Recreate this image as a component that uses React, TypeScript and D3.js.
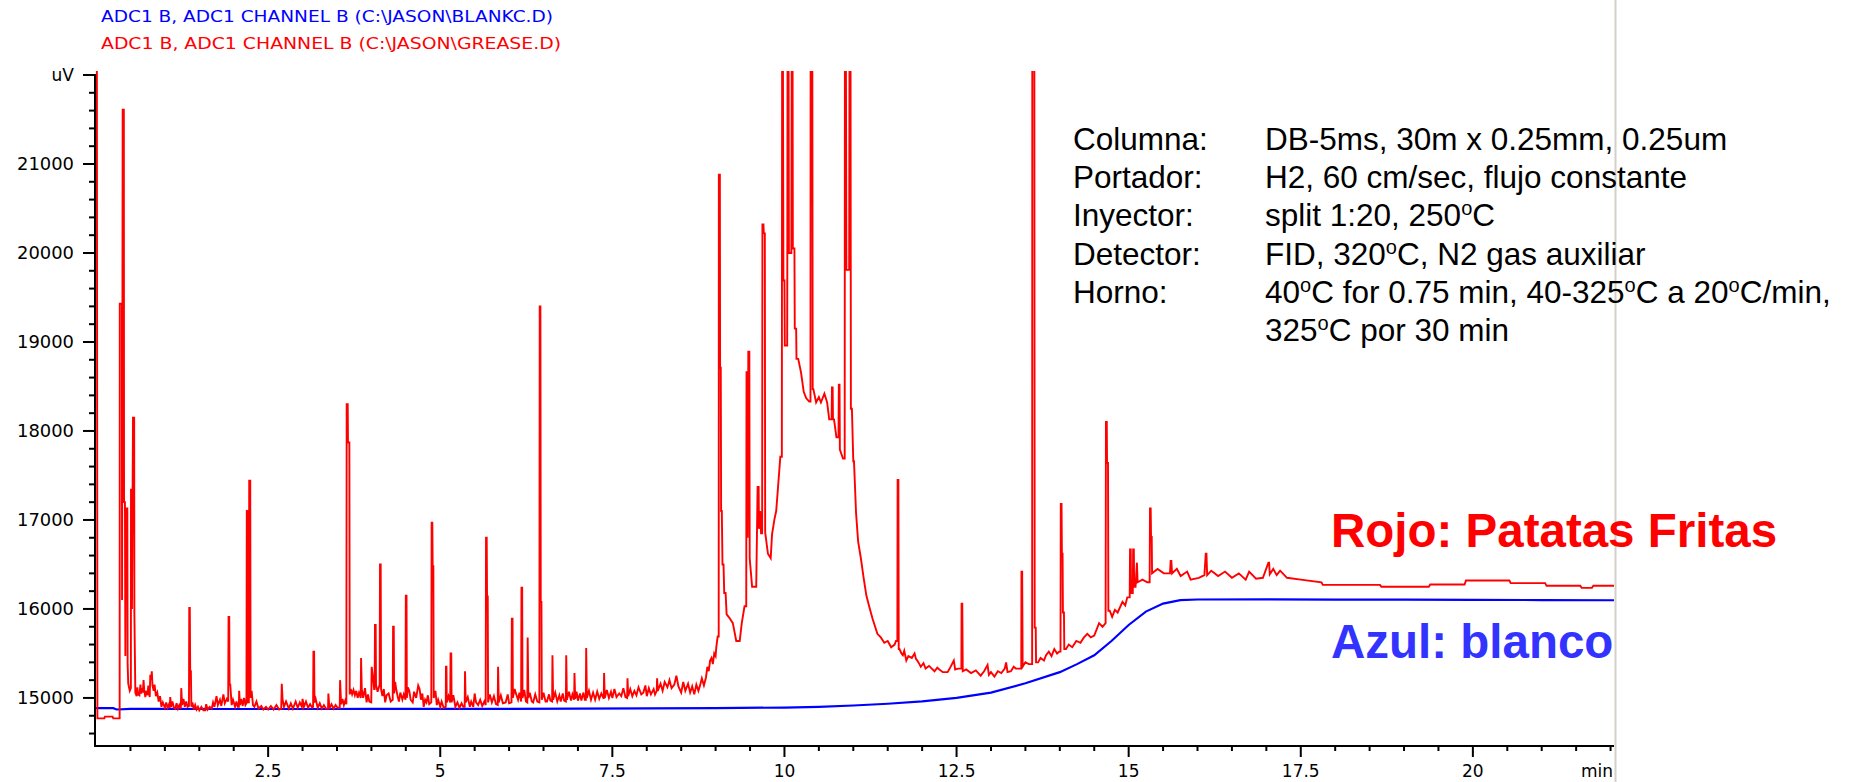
import React from "react";
import * as d3 from "d3";

const W = 1853;
const H = 782;

const legendBlue = "ADC1 B, ADC1 CHANNEL B (C:\\JASON\\BLANKC.D)";
const legendRed = "ADC1 B, ADC1 CHANNEL B (C:\\JASON\\GREASE.D)";

const yTickValues = [15000, 16000, 17000, 18000, 19000, 20000, 21000];
const yTickLabels = ["15000", "16000", "17000", "18000", "19000", "20000", "21000"];
const xTickValues = [2.5, 5, 7.5, 10, 12.5, 15, 17.5, 20];
const xTickLabels = ["2.5", "5", "7.5", "10", "12.5", "15", "17.5", "20"];

const annotationLabels = ["Columna:", "Portador:", "Inyector:", "Detector:", "Horno:", ""];
const annotationValues = [
  "DB-5ms, 30m x 0.25mm, 0.25um",
  "H2, 60 cm/sec, flujo constante",
  "split 1:20, 250^oC",
  "FID, 320^oC, N2 gas auxiliar",
  "40^oC for 0.75 min, 40-325^oC a 20^oC/min,",
  "325^oC por 30 min",
];

// Blank run (blue) : [time (min), signal (uV)]
const blueTrace: [number, number][] = [
  [0, 14885], [0.25, 14885], [0.3, 14870], [0.5, 14878], [1, 14878], [2, 14876], [3, 14876],
  [4, 14877], [5, 14877], [6, 14878], [7, 14880], [8, 14882], [9, 14886], [10, 14892],
  [10.5, 14900], [11, 14915], [11.5, 14935], [12, 14962], [12.5, 15000], [13, 15060],
  [13.5, 15165], [14, 15290], [14.25, 15380], [14.5, 15480], [14.75, 15640], [15, 15820],
  [15.25, 15970], [15.5, 16060], [15.75, 16100], [16, 16106], [17, 16108], [18, 16105],
  [19, 16104], [20, 16103], [21, 16100], [22.05, 16098],
];

// Grease sample (red) : [time (min), signal (uV)]
const redTrace: [number, number][] = [
  [0.012, 22150], [0.02, 14770], [0.12, 14770], [0.13, 14790], [0.24, 14790], [0.25, 14770], [0.343, 14770],
  [0.345, 19430], [0.375, 19430], [0.378, 16100], [0.387, 21610], [0.404, 21610], [0.407, 17200], [0.42, 17200],
  [0.426, 15470], [0.435, 17130], [0.455, 17130], [0.459, 15380], [0.468, 15160], [0.49, 15080], [0.506, 15110],
  [0.508, 17340], [0.52, 17340], [0.522, 16000], [0.537, 18150], [0.554, 18150], [0.557, 15960], [0.571, 15060],
  [0.59, 15020], [0.6, 15120], [0.61, 15040], [0.63, 15030], [0.645, 15150], [0.655, 15050], [0.667, 15110],
  [0.68, 15060], [0.69, 15200], [0.7, 15090], [0.716, 15010], [0.73, 15080], [0.745, 15030], [0.76, 15140],
  [0.77, 15050], [0.78, 15010], [0.788, 15260], [0.8, 15200], [0.81, 15300], [0.82, 15140], [0.837, 15080],
  [0.85, 15150], [0.87, 15020], [0.89, 15060], [0.909, 14960], [0.93, 15020], [0.95, 14900], [0.97, 14950],
  [1.0, 14890], [1.02, 14950], [1.04, 14890], [1.06, 14930], [1.072, 14890], [1.078, 15010], [1.09, 14900],
  [1.11, 14960], [1.13, 14890], [1.15, 14880], [1.17, 14940], [1.19, 14880], [1.21, 14920], [1.232, 14880],
  [1.238, 15110], [1.25, 14920], [1.27, 14990], [1.29, 14900], [1.31, 14960], [1.33, 14900], [1.35, 14910],
  [1.354, 16010], [1.362, 16010], [1.368, 15300], [1.378, 15300], [1.385, 14900], [1.4, 14950], [1.42, 14870],
  [1.44, 14920], [1.46, 14870], [1.48, 14900], [1.5, 14860], [1.53, 14900], [1.56, 14860], [1.586, 14860],
  [1.6, 14930], [1.62, 14870], [1.65, 14900], [1.68, 14880], [1.7, 14950], [1.72, 14900], [1.75, 15020],
  [1.77, 14920], [1.8, 14980], [1.82, 14910], [1.85, 15040], [1.87, 14940], [1.9, 14990], [1.92, 14960],
  [1.925, 15910], [1.935, 15910], [1.94, 15150], [1.95, 15150], [1.97, 14920], [1.99, 14980], [2.02, 14900],
  [2.04, 14960], [2.06, 14900], [2.075, 14900], [2.079, 15080], [2.09, 14920], [2.11, 14990], [2.13, 14910],
  [2.15, 15000], [2.17, 14920], [2.185, 14940], [2.19, 17100], [2.205, 17100], [2.21, 14950], [2.22, 14950],
  [2.225, 17440], [2.24, 17440], [2.245, 15000], [2.26, 15080], [2.28, 14920], [2.3, 14900], [2.33, 14960],
  [2.36, 14880], [2.4, 14910], [2.43, 14870], [2.47, 14900], [2.5, 14870], [2.54, 14910], [2.58, 14870],
  [2.62, 14920], [2.66, 14870], [2.69, 14880], [2.698, 15160], [2.71, 14980], [2.73, 14900], [2.76, 14960],
  [2.8, 14880], [2.83, 14940], [2.86, 14880], [2.9, 14960], [2.93, 14890], [2.96, 14950], [2.99, 14900],
  [3.0, 14990], [3.02, 14900], [3.05, 14960], [3.08, 14890], [3.11, 14930], [3.14, 14890], [3.153, 14900],
  [3.158, 15520], [3.168, 15520], [3.173, 14950], [3.19, 14990], [3.22, 14890], [3.25, 14940], [3.28, 14880],
  [3.31, 14920], [3.34, 14880], [3.37, 14880], [3.375, 15050], [3.39, 14880], [3.42, 14930], [3.45, 14880],
  [3.48, 14920], [3.51, 14890], [3.54, 14890], [3.545, 15200], [3.56, 14930], [3.58, 14990], [3.6, 14920],
  [3.62, 14970], [3.636, 14930], [3.641, 18300], [3.656, 18300], [3.66, 17870], [3.68, 17870], [3.685, 15040],
  [3.7, 15100], [3.72, 15040], [3.74, 15090], [3.76, 15030], [3.78, 15080], [3.8, 15000], [3.82, 15060],
  [3.845, 15000], [3.85, 15450], [3.86, 15100], [3.88, 15000], [3.907, 15110], [3.93, 14950], [3.95, 15040],
  [3.97, 14960], [3.998, 14950], [4.004, 15350], [4.02, 15250], [4.04, 15100], [4.047, 15100], [4.052, 15820],
  [4.062, 15820], [4.067, 15150], [4.09, 15070], [4.12, 15150], [4.125, 16500], [4.135, 16500], [4.14, 15100],
  [4.16, 15020], [4.18, 15100], [4.2, 14950], [4.22, 15030], [4.25, 15050], [4.28, 14960], [4.31, 14980],
  [4.315, 15800], [4.325, 15800], [4.33, 15050], [4.345, 15180], [4.36, 15100], [4.38, 15020], [4.4, 14960],
  [4.42, 15060], [4.45, 14980], [4.47, 15040], [4.495, 14980], [4.5, 16150], [4.51, 16150], [4.515, 15000],
  [4.53, 15120], [4.55, 15080], [4.57, 14980], [4.6, 14950], [4.62, 15070], [4.65, 15000], [4.68, 15140],
  [4.7, 15100], [4.72, 14980], [4.74, 15050], [4.76, 14900], [4.78, 14980], [4.8, 14950], [4.82, 15030],
  [4.84, 14930], [4.87, 14950], [4.875, 16970], [4.885, 16970], [4.89, 16480], [4.9, 16480], [4.905, 15000],
  [4.93, 15080], [4.95, 14920], [4.97, 14980], [5.0, 14900], [5.02, 14960], [5.05, 14890], [5.08, 14900],
  [5.083, 15350], [5.09, 15350], [5.095, 14950], [5.12, 15020], [5.145, 14950], [5.15, 15500], [5.16, 15500],
  [5.165, 14950], [5.19, 15030], [5.22, 14900], [5.25, 14950], [5.28, 14890], [5.31, 14940], [5.335, 14900],
  [5.355, 14900], [5.36, 15300], [5.37, 14950], [5.4, 15010], [5.43, 14900], [5.45, 14960], [5.48, 14900],
  [5.5, 15050], [5.52, 14950], [5.55, 14920], [5.58, 14980], [5.61, 14910], [5.64, 14960], [5.66, 14920],
  [5.665, 16800], [5.675, 16800], [5.68, 16140], [5.69, 16140], [5.695, 14950], [5.72, 15040], [5.75, 14950],
  [5.78, 15020], [5.81, 14930], [5.835, 14920], [5.84, 15350], [5.85, 14950], [5.88, 15030], [5.91, 14940],
  [5.95, 14950], [5.98, 15040], [6.0, 14940], [6.035, 14950], [6.04, 15890], [6.05, 15890], [6.055, 15000],
  [6.08, 15100], [6.1, 15050], [6.13, 14980], [6.15, 15060], [6.175, 14960], [6.18, 16240], [6.19, 16240],
  [6.195, 15000], [6.22, 15090], [6.245, 14960], [6.265, 14950], [6.27, 15680], [6.28, 15000], [6.3, 15060],
  [6.33, 14960], [6.35, 14950], [6.38, 15040], [6.41, 14960], [6.44, 14950], [6.445, 19400], [6.455, 19400],
  [6.46, 16080], [6.47, 16080], [6.475, 14980], [6.5, 15060], [6.53, 14960], [6.55, 14960], [6.58, 15040],
  [6.6, 14970], [6.625, 14960], [6.63, 15480], [6.64, 14980], [6.67, 15060], [6.7, 14960], [6.73, 15030],
  [6.75, 14960], [6.78, 15050], [6.8, 14970], [6.825, 14960], [6.83, 15480], [6.84, 14980], [6.87, 15070],
  [6.9, 14970], [6.92, 15040], [6.945, 14980], [6.95, 15280], [6.96, 14990], [6.98, 15070], [7.0, 14970],
  [7.03, 15050], [7.05, 14970], [7.08, 15060], [7.1, 14980], [7.115, 14980], [7.12, 15560], [7.13, 15000],
  [7.16, 15080], [7.19, 14980], [7.22, 15060], [7.25, 14980], [7.28, 15070], [7.31, 14990], [7.34, 15050],
  [7.375, 14990], [7.38, 15280], [7.39, 15000], [7.42, 15090], [7.45, 15000], [7.48, 15070], [7.5, 15000],
  [7.53, 15100], [7.56, 15010], [7.6, 15050], [7.63, 15020], [7.66, 15110], [7.69, 15010], [7.715, 15000],
  [7.72, 15220], [7.73, 15020], [7.76, 15100], [7.79, 15020], [7.82, 15080], [7.85, 15030], [7.88, 15120],
  [7.92, 15040], [7.95, 15060], [7.98, 15140], [8.0, 15020], [8.03, 15110], [8.06, 15040], [8.1, 15100],
  [8.12, 15040], [8.145, 15080], [8.15, 15220], [8.16, 15080], [8.2, 15160], [8.23, 15080], [8.26, 15180],
  [8.3, 15120], [8.33, 15200], [8.36, 15110], [8.4, 15150], [8.43, 15250], [8.46, 15130], [8.5, 15060],
  [8.53, 15180], [8.56, 15080], [8.6, 15160], [8.63, 15060], [8.66, 15130], [8.69, 15040], [8.72, 15150],
  [8.75, 15080], [8.77, 15130], [8.8, 15220], [8.83, 15140], [8.86, 15230], [8.88, 15350], [8.9, 15300],
  [8.92, 15420], [8.94, 15450], [8.96, 15380], [8.98, 15500], [9.0, 15470], [9.01, 15570], [9.03, 15690],
  [9.045, 15690], [9.047, 20880], [9.062, 20880], [9.065, 18710], [9.075, 18710], [9.08, 17100], [9.09, 17100],
  [9.1, 16500], [9.115, 16500], [9.125, 16180], [9.145, 16180], [9.16, 15940], [9.2, 15900], [9.25, 15840],
  [9.3, 15640], [9.35, 15640], [9.38, 15840], [9.42, 16030], [9.445, 16030], [9.449, 18660], [9.46, 18660],
  [9.465, 16800], [9.475, 18890], [9.49, 18890], [9.495, 16570], [9.53, 16250], [9.59, 16250], [9.61, 17370],
  [9.625, 17370], [9.63, 16900], [9.647, 17100], [9.66, 16850], [9.676, 16850], [9.68, 20320], [9.695, 20320],
  [9.7, 20220], [9.715, 20220], [9.72, 16860], [9.76, 16620], [9.8, 16570], [9.82, 16840], [9.855, 17010],
  [9.88, 17100], [9.9, 17300], [9.94, 17710], [9.962, 17710], [9.966, 22150], [9.978, 22150], [9.985, 19690],
  [10.0, 19690], [10.005, 18960], [10.04, 18960], [10.045, 22150], [10.06, 22150], [10.065, 20000], [10.1, 20000],
  [10.105, 22150], [10.118, 22150], [10.122, 20050], [10.145, 20050], [10.15, 19150], [10.17, 19150],
  [10.175, 18810], [10.2, 18810], [10.24, 18660], [10.28, 18440], [10.315, 18370], [10.36, 18330],
  [10.378, 18330], [10.38, 22150], [10.405, 22150], [10.41, 18470], [10.42, 18470], [10.46, 18320],
  [10.5, 18380], [10.53, 18320], [10.58, 18420], [10.62, 18320], [10.65, 18130], [10.685, 18130], [10.69, 18490],
  [10.7, 18490], [10.705, 18130], [10.72, 18130], [10.755, 17930], [10.785, 17930], [10.79, 18520], [10.8, 18520],
  [10.805, 17790], [10.85, 17690], [10.875, 17690], [10.878, 22150], [10.893, 22150], [10.9, 19810],
  [10.94, 19810], [10.945, 22150], [10.96, 22150], [10.965, 18250], [10.98, 18250], [11.0, 17660], [11.01, 17660],
  [11.04, 17080], [11.07, 16760], [11.11, 16570], [11.15, 16350], [11.19, 16150], [11.23, 16030], [11.28, 15890],
  [11.35, 15720], [11.4, 15680], [11.45, 15620], [11.5, 15640], [11.55, 15570], [11.6, 15600], [11.62, 15640],
  [11.64, 15640], [11.644, 17450], [11.655, 17450], [11.66, 15550], [11.67, 15550], [11.7, 15500], [11.72, 15480],
  [11.74, 15530], [11.77, 15420], [11.8, 15470], [11.85, 15450], [11.89, 15500], [11.91, 15440], [11.93, 15420],
  [11.96, 15380], [11.98, 15350], [12.02, 15390], [12.05, 15330], [12.1, 15360], [12.18, 15300], [12.22, 15340],
  [12.25, 15320], [12.3, 15290], [12.37, 15290], [12.4, 15330], [12.46, 15420], [12.48, 15320], [12.52, 15330],
  [12.57, 15330], [12.573, 16060], [12.583, 16060], [12.59, 15300], [12.64, 15320], [12.71, 15280], [12.78, 15310],
  [12.85, 15250], [12.9, 15300], [12.95, 15370], [12.97, 15260], [13.0, 15290], [13.05, 15240], [13.1, 15300],
  [13.15, 15280], [13.2, 15330], [13.22, 15400], [13.24, 15290], [13.29, 15300], [13.33, 15350], [13.36, 15330],
  [13.44, 15330], [13.443, 16420], [13.453, 16420], [13.46, 15350], [13.5, 15400], [13.55, 15380], [13.598, 15380],
  [13.6, 22150], [13.63, 22150], [13.635, 15790], [13.65, 15790], [13.655, 15400], [13.685, 15400], [13.72, 15450],
  [13.77, 15420], [13.8, 15480], [13.84, 15520], [13.88, 15470], [13.92, 15550], [13.96, 15500], [13.99, 15520],
  [14.01, 15520], [14.014, 17180], [14.025, 17180], [14.03, 16620], [14.04, 16620], [14.045, 15960], [14.06, 15960],
  [14.065, 15550], [14.09, 15550], [14.13, 15600], [14.18, 15570], [14.24, 15640], [14.3, 15620], [14.35, 15680],
  [14.4, 15720], [14.45, 15680], [14.5, 15700], [14.57, 15840], [14.62, 15800], [14.665, 15840], [14.67, 18100],
  [14.682, 18100], [14.686, 17640], [14.7, 17640], [14.705, 15980], [14.725, 15980], [14.76, 15910], [14.8, 15990],
  [14.84, 15960], [14.91, 16080], [14.95, 16040], [14.98, 16130], [15.015, 16130], [15.02, 16670], [15.03, 16670],
  [15.035, 16180], [15.06, 16180], [15.065, 16670], [15.075, 16670], [15.08, 16250], [15.1, 16250], [15.12, 16520],
  [15.13, 16300], [15.2, 16330], [15.27, 16300], [15.305, 16300], [15.31, 17130], [15.32, 17130], [15.325, 16810],
  [15.335, 16810], [15.34, 16400], [15.42, 16450], [15.51, 16400], [15.6, 16400], [15.61, 16540], [15.62, 16540],
  [15.63, 16400], [15.7, 16450], [15.755, 16370], [15.85, 16420], [15.9, 16330], [16.02, 16350], [16.1, 16380],
  [16.12, 16620], [16.13, 16620], [16.14, 16380], [16.2, 16430], [16.3, 16370], [16.4, 16420], [16.5, 16350],
  [16.6, 16400], [16.7, 16330], [16.75, 16420], [16.85, 16340], [16.95, 16350], [17.03, 16520], [17.04, 16520],
  [17.05, 16390], [17.1, 16450], [17.15, 16380], [17.2, 16430], [17.3, 16350], [17.5, 16330], [17.8, 16300],
  [17.82, 16270], [18.65, 16270], [18.67, 16250], [19.36, 16250], [19.38, 16275], [19.88, 16275], [19.9, 16320],
  [20.53, 16320], [20.55, 16290], [21.05, 16290], [21.07, 16260], [21.56, 16260], [21.58, 16237], [21.73, 16237],
  [21.75, 16260], [22.05, 16260],
];

const x = d3.scaleLinear().domain([-0.015, 22.05]).range([95, 1614]);
const y = d3.scaleLinear().domain([14460, 22000]).range([746, 75]);

const xMinor = d3.range(0.5, 22.01, 0.5).filter((t) => Math.abs(t / 2.5 - Math.round(t / 2.5)) > 1e-6);
const yMinor = d3.range(14600, 22001, 200).filter((v) => v % 1000 !== 0);

const line = d3
  .line<[number, number]>()
  .x((d) => x(d[0]))
  .y((d) => y(d[1]));

const renderValue = (s: string) => {
  const parts = s.split("^o");
  const out: React.ReactNode[] = [];
  parts.forEach((p, i) => {
    if (i > 0) {
      out.push(
        <tspan key={"o" + i} dy={-11} fontSize={20}>
          o
        </tspan>
      );
      out.push(
        <tspan key={"p" + i} dy={11}>
          {p}
        </tspan>
      );
    } else {
      out.push(<tspan key={"p" + i}>{p}</tspan>);
    }
  });
  return out;
};

export default function App() {
  const tickFont = "'DejaVu Sans', Verdana, sans-serif";
  const textFont = "'Liberation Sans', Arial, Helvetica, sans-serif";
  return (
    <svg
      width={W}
      height={H}
      viewBox={`0 0 ${W} ${H}`}
      style={{ position: "absolute", left: 0, top: 0, background: "#fff" }}
    >
      <defs>
        <clipPath id="plotClip">
          <rect x={95} y={71} width={1614 - 95} height={746 - 71} />
        </clipPath>
      </defs>
      <rect x={0} y={0} width={W} height={H} fill="#fff" />

      {/* legend */}
      <text x={101} y={22} fill="#0000ff" fontFamily={tickFont} fontSize={16} textLength={452} lengthAdjust="spacingAndGlyphs">
        {legendBlue}
      </text>
      <text x={101} y={49} fill="#ff0000" fontFamily={tickFont} fontSize={16} textLength={460} lengthAdjust="spacingAndGlyphs">
        {legendRed}
      </text>

      {/* traces */}
      <g clipPath="url(#plotClip)" fill="none" strokeLinejoin="miter">
        <path d={line(blueTrace) || ""} stroke="#0000ff" strokeWidth={2.2} />
        <path d={line(redTrace) || ""} stroke="#ff0000" strokeWidth={1.9} />
      </g>

      {/* y axis */}
      <line x1={95} x2={95} y1={74} y2={747} stroke="#000" strokeWidth={2} />
      {yMinor.map((v) => (
        <line key={"ym" + v} x1={89} x2={95} y1={y(v)} y2={y(v)} stroke="#000" strokeWidth={2} />
      ))}
      {[...yTickValues, 22000].map((v) => (
        <line key={"yM" + v} x1={83} x2={95} y1={y(v)} y2={y(v)} stroke="#000" strokeWidth={2} />
      ))}
      {yTickValues.map((v, i) => (
        <text
          key={"yl" + v}
          x={74}
          y={y(v) + 6}
          textAnchor="end"
          fontFamily={tickFont}
          fontSize={17}
          fill="#000"
          textLength={57}
          lengthAdjust="spacingAndGlyphs"
        >
          {yTickLabels[i]}
        </text>
      ))}
      <text x={74} y={y(22000) + 6} textAnchor="end" fontFamily={tickFont} fontSize={17} fill="#000">
        uV
      </text>

      {/* x axis */}
      <line x1={94} x2={1614} y1={746} y2={746} stroke="#000" strokeWidth={2} />
      {xMinor.map((t) => (
        <line key={"xm" + t} x1={x(t)} x2={x(t)} y1={746} y2={751} stroke="#000" strokeWidth={2} />
      ))}
      {xTickValues.map((t, i) => (
        <g key={"xM" + t}>
          <line x1={x(t)} x2={x(t)} y1={746} y2={757} stroke="#000" strokeWidth={2} />
          <text x={x(t)} y={777} textAnchor="middle" fontFamily={tickFont} fontSize={17} fill="#000">
            {xTickLabels[i]}
          </text>
        </g>
      ))}
      <text x={1613} y={777} textAnchor="end" fontFamily={tickFont} fontSize={17} fill="#000">
        min
      </text>

      {/* window border line */}
      <line x1={1615.5} x2={1615.5} y1={0} y2={H} stroke="#d4d0c8" strokeWidth={2} />

      {/* annotation block */}
      {annotationLabels.map((lab, i) => (
        <g key={"ann" + i} fontFamily={textFont} fontSize={31.5} fill="#000">
          {lab && (
            <text x={1073} y={150 + i * 38.2}>
              {lab}
            </text>
          )}
          <text x={1265} y={150 + i * 38.2}>{renderValue(annotationValues[i])}</text>
        </g>
      ))}

      <text x={1331} y={547} fill="#ff0000" fontFamily={textFont} fontWeight="bold" fontSize={47.5}>
        Rojo: Patatas Fritas
      </text>
      <text x={1331} y={658} fill="#3333ff" fontFamily={textFont} fontWeight="bold" fontSize={47.5}>
        Azul: blanco
      </text>
    </svg>
  );
}
